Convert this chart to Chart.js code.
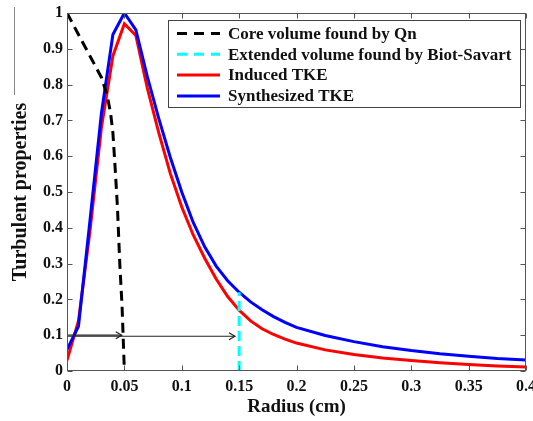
<!DOCTYPE html>
<html><head><meta charset="utf-8">
<script src="https://cdn.jsdelivr.net/npm/chart.js@4.4.0/dist/chart.umd.min.js"></script>
<style>html,body{margin:0;padding:0;background:#fff}#wrap{width:533px;height:421px}</style>
</head><body><div id="wrap"><canvas id="c" width="533" height="421"></canvas></div>
<script>
// ---- data ----
const radiusTKE = [0,0.01,0.02,0.03,0.04,0.05,0.06,0.07,0.08,0.09,0.10,0.11,0.12,0.13,0.14,0.15,0.16,0.17,0.18,0.19,0.20,0.225,0.25,0.275,0.30,0.325,0.35,0.375,0.40];
const synthesizedTKE = [0.06,0.125,0.42,0.72,0.94,1.0,0.953,0.822,0.705,0.597,0.50,0.415,0.347,0.293,0.252,0.220,0.193,0.171,0.152,0.136,0.122,0.099,0.082,0.068,0.057,0.048,0.041,0.035,0.031];
const inducedTKE = [0.03,0.14,0.39,0.68,0.88,0.97,0.937,0.79,0.665,0.552,0.458,0.38,0.315,0.257,0.208,0.170,0.140,0.118,0.102,0.089,0.078,0.059,0.046,0.036,0.029,0.023,0.018,0.014,0.011];
const coreRadius = [0,0.01,0.02,0.03,0.035,0.038,0.04,0.042,0.044,0.046,0.048,0.05];
const coreValues = [1,0.94,0.88,0.82,0.77,0.72,0.665,0.565,0.455,0.30,0.18,0];
const extendedRadius = [0.15,0.15];
const extendedValues = [0,0.220];
const arrowCoreX = [0,0.0477];
const arrowCoreY = [0.1,0.1];
const arrowExtX = [0,0.1464];
const arrowExtY = [0.097,0.097];
const xTickLabels = ['0','0.05','0.1','0.15','0.2','0.25','0.3','0.35','0.4'];
const yTickLabels = ['0','0.1','0.2','0.3','0.4','0.5','0.6','0.7','0.8','0.9','1'];
const seriesLabels = ['Core volume found by Qn','Extended volume found by Biot-Savart','Induced TKE','Synthesized TKE'];
const xTitle = 'Radius (cm)';
const yTitle = 'Turbulent properties';

const pts = (xs, ys) => xs.map((v, i) => ({x: v, y: ys[i]}));
const FONT = '"Liberation Serif", "Times New Roman", serif';

const datasets = [
  {label: seriesLabels[0], data: pts(coreRadius, coreValues), borderColor: '#000', borderWidth: 3, borderDash: [10,6], order: 0},
  {label: seriesLabels[1], data: pts(extendedRadius, extendedValues), borderColor: '#00ffff', borderWidth: 3, borderDash: [10,5], order: 0},
  {label: seriesLabels[2], data: pts(radiusTKE, inducedTKE), borderColor: '#ff0000', borderWidth: 3, order: 2},
  {label: seriesLabels[3], data: pts(radiusTKE, synthesizedTKE), borderColor: '#0000ff', borderWidth: 3, order: 1},
  {label: 'arrow1', data: pts(arrowCoreX, arrowCoreY), borderColor: '#222', borderWidth: 1.2, order: 0, arrow: true},
  {label: 'arrow2', data: pts(arrowExtX, arrowExtY), borderColor: '#222', borderWidth: 1.2, order: 0, arrow: true}
];

const decor = {
  id: 'decor',
  afterDatasetsDraw(chart) {
    const {ctx, chartArea: a, scales: {x, y}} = chart;
    ctx.save();
    // arrowheads
    chart.data.datasets.forEach(ds => {
      if (!ds.arrow) return;
      const p = ds.data[ds.data.length - 1];
      const tx = x.getPixelForValue(p.x), ty = y.getPixelForValue(p.y);
      ctx.strokeStyle = ds.borderColor; ctx.lineWidth = 1.2;
      ctx.beginPath(); ctx.moveTo(tx - 6, ty - 3.5); ctx.lineTo(tx, ty); ctx.lineTo(tx - 6, ty + 3.5); ctx.stroke();
    });
    // frame
    const L = Math.round(a.left) + 0.5, R = Math.round(a.right) - 0.5, T = Math.round(a.top) + 0.5, B = Math.round(a.bottom) - 0.5;
    ctx.strokeStyle = '#555'; ctx.lineWidth = 1;
    ctx.strokeRect(L, T, R - L, B - T);
    // inward ticks
    ctx.beginPath();
    x.ticks.forEach(t => {
      const px = Math.round(x.getPixelForValue(t.value)) + 0.5;
      ctx.moveTo(px, B); ctx.lineTo(px, B - 5);
      ctx.moveTo(px, T); ctx.lineTo(px, T + 5);
    });
    y.ticks.forEach(t => {
      const py = Math.round(y.getPixelForValue(t.value)) + 0.5;
      ctx.moveTo(L, py); ctx.lineTo(L + 5, py);
      ctx.moveTo(R, py); ctx.lineTo(R - 5, py);
    });
    ctx.stroke();
    // legend
    const lx = a.left + 101, ly = a.top + 7, lw = 352, lh = 87;
    ctx.fillStyle = '#fff';
    ctx.fillRect(lx, ly, lw, lh);
    ctx.strokeStyle = '#444';
    ctx.strokeRect(Math.round(lx) + 0.5, Math.round(ly) + 0.5, lw, lh);
    ctx.font = 'bold 17px ' + FONT;
    ctx.textBaseline = 'middle';
    ctx.textAlign = 'left';
    for (let i = 0; i < 4; i++) {
      const ds = chart.data.datasets[i];
      const ry = ly + 13.5 + i * 20.8;
      ctx.strokeStyle = ds.borderColor; ctx.lineWidth = 3;
      ctx.setLineDash(ds.borderDash ? [10, 7] : []);
      ctx.beginPath(); ctx.moveTo(lx + 9, ry); ctx.lineTo(lx + 52, ry); ctx.stroke();
      ctx.setLineDash([]);
      ctx.fillStyle = '#111';
      ctx.fillText(ds.label, lx + 60, ry + 1);
    }
    // left edge artifact line of the source figure
    ctx.strokeStyle = '#888'; ctx.lineWidth = 1;
    ctx.beginPath(); ctx.moveTo(14.5, 7); ctx.lineTo(14.5, 95); ctx.stroke();
    ctx.restore();
  }
};

new Chart(document.getElementById('c'), {
  type: 'line',
  data: {datasets},
  options: {
    responsive: false,
    animation: false,
    layout: {padding: {top: 13, right: 7, left: 0, bottom: 0}},
    elements: {point: {radius: 0}, line: {tension: 0, fill: false, borderCapStyle: 'butt'}},
    plugins: {legend: {display: false}, tooltip: {enabled: false}},
    scales: {
      x: {
        type: 'linear', min: 0, max: 0.4,
        afterFit: s => { s.height = 50; s.paddingLeft = 0; s.paddingRight = 0; },
        grid: {display: false, drawTicks: false},
        border: {display: false},
        ticks: {stepSize: 0.05, padding: 6, color: '#111', maxRotation: 0, autoSkip: false,
          font: {family: FONT, size: 16, weight: 'bold'},
          callback: (v, i) => xTickLabels[i]},
        title: {display: true, text: xTitle, color: '#111', padding: {top: 0, bottom: 3},
          font: {family: FONT, size: 19, weight: 'bold'}}
      },
      y: {
        type: 'linear', min: 0, max: 1,
        afterFit: s => { s.width = 67; s.paddingTop = 0; s.paddingBottom = 0; },
        grid: {display: false, drawTicks: false},
        border: {display: false},
        ticks: {stepSize: 0.1, padding: 4, color: '#111', autoSkip: false,
          font: {family: FONT, size: 16, weight: 'bold'},
          callback: (v, i) => yTickLabels[i]},
        title: {display: true, text: yTitle, color: '#111', padding: {top: 9, bottom: 0},
          font: {family: FONT, size: 20, weight: 'bold'}}
      }
    }
  },
  plugins: [decor]
});
</script>
</body></html>
